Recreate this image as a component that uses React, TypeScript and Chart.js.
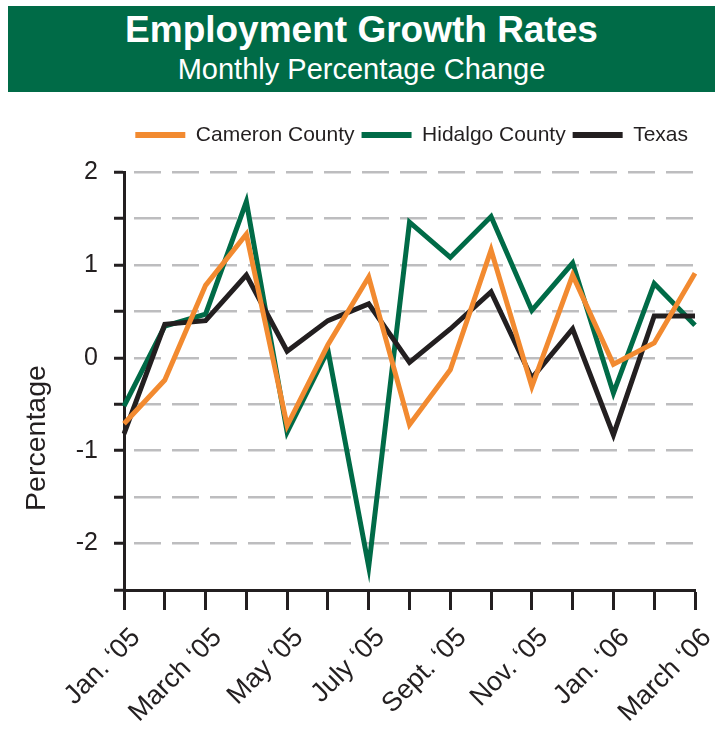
import React, { useEffect, useRef } from "react";
import { Chart, registerables } from "chart.js";

Chart.register(...registerables);

// ---- data ----
const months = [
  "Jan. ‘05", "Feb. ‘05", "March ‘05", "April ‘05", "May ‘05", "June ‘05",
  "July ‘05", "Aug. ‘05", "Sept. ‘05", "Oct. ‘05", "Nov. ‘05", "Dec. ‘05",
  "Jan. ‘06", "Feb. ‘06", "March ‘06",
];
const cameron = [-0.71, -0.24, 0.78, 1.33, -0.73, 0.14, 0.87, -0.72, -0.13, 1.16, -0.31, 0.89, -0.07, 0.16, 0.91];
const hidalgo = [-0.52, 0.34, 0.47, 1.68, -0.8, 0.08, -2.25, 1.46, 1.08, 1.52, 0.51, 1.02, -0.38, 0.8, 0.35];
const texas = [-0.82, 0.36, 0.4, 0.89, 0.07, 0.4, 0.58, -0.05, 0.31, 0.71, -0.22, 0.31, -0.83, 0.45, 0.45];
const seriesNames = ["Cameron County", "Hidalgo County", "Texas"];
const yMin = -2.5;
const yMax = 2;
const yStep = 0.5;
const yTitle = "Percentage";
const titleText = "Employment Growth Rates";
const subtitleText = "Monthly Percentage Change";

const FONT = "'Liberation Sans', Arial, Helvetica, sans-serif";
const INK = "#231F20";
const ORANGE = "#F28A30";
const GREEN = "#006B47";
const GRID = "#BDBDBF";

export default function App() {
  const ref = useRef<HTMLCanvasElement>(null);

  useEffect(() => {
    if (!ref.current) return;
    Chart.defaults.font.family = FONT;
    const legendSpacer = {
      id: "legendSpacer",
      beforeInit(chart: any) {
        const legend = chart.legend;
        if (!legend) return;
        const orig = legend.fit;
        legend.fit = function () {
          orig.call(this);
          this.height += 16.5;
        };
      },
    };
    const yTitlePlugin = {
      id: "yTitlePlugin",
      afterDraw(chart: any) {
        const ctx = chart.ctx;
        ctx.save();
        ctx.translate(37, 438);
        ctx.rotate(-Math.PI / 2);
        ctx.fillStyle = INK;
        ctx.font = `28.5px ${FONT}`;
        ctx.textAlign = "center";
        ctx.textBaseline = "middle";
        ctx.fillText(yTitle, 0, 0);
        ctx.restore();
      },
    };
    const chart = new Chart(ref.current, {
      type: "line",
      data: {
        labels: months,
        datasets: [
          { label: seriesNames[0], data: cameron, borderColor: ORANGE, backgroundColor: ORANGE, order: 0 },
          { label: seriesNames[1], data: hidalgo, borderColor: GREEN, backgroundColor: GREEN, order: 2 },
          { label: seriesNames[2], data: texas, borderColor: INK, backgroundColor: INK, order: 1 },
        ],
      },
      options: {
        responsive: false,
        animation: false,
        devicePixelRatio: 1,
        layout: { padding: { top: 117.5, left: 16, right: 20, bottom: 0 } },
        elements: {
          line: { borderWidth: 5, tension: 0, borderJoinStyle: "miter", fill: false },
          point: { radius: 0, hoverRadius: 0 },
        },
        plugins: {
          tooltip: { enabled: false },
          legend: {
            position: "top",
            align: "end",
            fullSize: true,
            labels: {
              boxWidth: 50,
              boxHeight: 6,
              padding: 7,
              color: INK,
              font: { family: FONT, size: 21 },
              sort: (a: any, b: any) => a.datasetIndex - b.datasetIndex,
              generateLabels: (c: any) =>
                (Chart.defaults.plugins.legend.labels as any)
                  .generateLabels(c)
                  .map((l: any) => ({ ...l, lineWidth: 0 })),
            },
          },
        },
        scales: {
          x: {
            type: "category",
            offset: false,
            grid: { drawOnChartArea: false, drawTicks: true, tickLength: 20, tickWidth: 3, tickColor: INK },
            border: { display: true, color: INK, width: 3 },
            ticks: {
              autoSkip: false,
              maxRotation: 45,
              minRotation: 45,
              padding: 12,
              labelOffset: 12,
              color: INK,
              font: { family: FONT, size: 27 },
              callback: (_v: any, i: number) => (i % 2 === 0 ? months[i] : ""),
            },
            afterFit: (s: any) => {
              s.height = 139;
              s.paddingLeft = 0;
              s.paddingRight = 0;
            },
          },
          y: {
            min: yMin,
            max: yMax,
            ticks: {
              stepSize: yStep,
              padding: 16,
              color: INK,
              font: { family: FONT, size: 25 },
              callback: (v: any) => (Number.isInteger(Number(v)) ? String(v) : ""),
            },
            grid: {
              color: (ctx: any) => (ctx.tick && ctx.tick.value === yMin ? "rgba(0,0,0,0)" : GRID),
              lineWidth: 2.5,
              drawTicks: true,
              tickLength: 10,
              tickWidth: 3,
              tickColor: INK,
            },
            border: { display: true, color: INK, width: 3, dash: [27, 11], dashOffset: 30 },
            title: { display: false },
            afterFit: (s: any) => {
              s.width = 108;
            },
          },
        },
      } as any,
      plugins: [legendSpacer, yTitlePlugin],
    });
    return () => chart.destroy();
  }, []);

  return (
    <div style={{ position: "fixed", left: 0, top: 0, width: 715, height: 729, background: "#fff", overflow: "hidden" }}>
      <canvas
        ref={ref}
        width={715}
        height={729}
        style={{ position: "absolute", left: 0, top: 0, width: 715, height: 729 }}
      />
      <div
        style={{
          position: "absolute",
          left: 8,
          top: 6,
          width: 707,
          height: 86,
          background: GREEN,
          color: "#fff",
          fontFamily: FONT,
          textAlign: "center",
        }}
      >
        <div style={{ position: "absolute", left: 0, right: 0, top: 5, fontSize: 37, fontWeight: "bold", lineHeight: 1, whiteSpace: "nowrap" }}>
          {titleText}
        </div>
        <div style={{ position: "absolute", left: 0, right: 0, top: 48.5, fontSize: 29, lineHeight: 1, whiteSpace: "nowrap" }}>
          {subtitleText}
        </div>
      </div>
    </div>
  );
}
